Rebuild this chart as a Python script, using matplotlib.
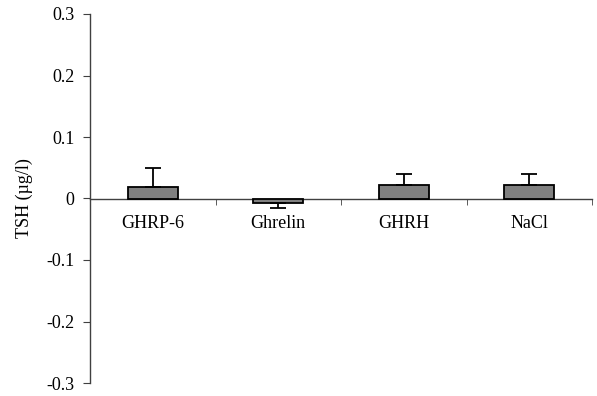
import matplotlib.pyplot as plt
import numpy as np

groups = ["GHRP-6", "Ghrelin", "GHRH", "NaCl"]
tsh = [0.019, -0.008, 0.022, 0.022]
err = [0.030, 0.008, 0.018, 0.018]

plt.rcParams["font.family"] = ["Liberation Serif", "DejaVu Serif"]

fig = plt.figure(figsize=(5.97, 3.96), dpi=100)
ax = fig.add_axes([90 / 597, 1 - 383 / 396, 502 / 597, 369 / 396])

x = np.arange(len(groups)) + 0.5
# one-sided error bars: up for positive, down for negative
lower = [e if v < 0 else 0 for v, e in zip(tsh, err)]
upper = [e if v >= 0 else 0 for v, e in zip(tsh, err)]
ax.bar(x, tsh, width=0.4, color="#808080", edgecolor="black", linewidth=1.3,
       yerr=[lower, upper], error_kw=dict(ecolor="black", elinewidth=1.3, capsize=6, capthick=1.3),
       zorder=3)

ax.set_xlim(0, len(groups))
ax.set_ylim(-0.3, 0.3)
ax.set_yticks(np.arange(-0.3, 0.31, 0.1))
ax.set_yticklabels(["-0.3", "-0.2", "-0.1", "0", "0.1", "0.2", "0.3"])

for s in ["top", "right"]:
    ax.spines[s].set_visible(False)
ax.spines["bottom"].set_position(("data", 0))
for s in ["left", "bottom"]:
    ax.spines[s].set_color("#404040")
    ax.spines[s].set_linewidth(1.0)

ax.set_xticks(x)
ax.set_xticklabels(groups)
ax.set_xticks(np.arange(0, len(groups) + 1), minor=True)
ax.tick_params(axis="x", which="major", length=0, pad=12, labelsize=13)
ax.tick_params(axis="x", which="minor", length=4, direction="out", color="#404040")
ax.tick_params(axis="y", length=5, direction="out", color="#404040", labelsize=13, pad=6)

ax.set_ylabel("TSH (µg/l)", fontsize=13, labelpad=10)

fig.savefig("out.png", dpi=100)
